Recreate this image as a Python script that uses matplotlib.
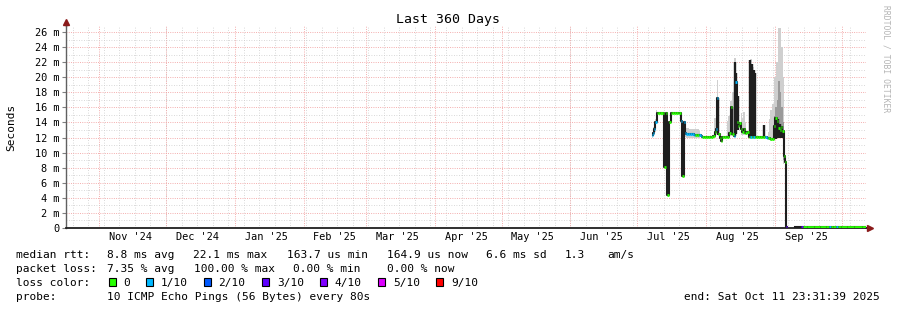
import numpy as np
import matplotlib
matplotlib.use("Agg")
import matplotlib.pyplot as plt
from matplotlib.patches import Rectangle
from datetime import datetime, timedelta

nan = float("nan")

# time range of the graph (360 days ending Oct 11 2025 23:31:39)
start = datetime(2024, 10, 16, 23, 31, 39)
span_days = 360

# median rtt (ms) per sample, x = days since start, loss = index into loss_colors
rtt_day = [264.0, 264.5, 265.0, 265.5, 266.1, 267.0, 268.0, 268.9, 269.6, 270.2,
           270.9, 271.7, 272.4, 273.2, 274.0, 274.8, 275.6, 276.4, 277.0, 277.6,
           278.2, 278.8, 279.6, 280.4, 281.2, 282.0, 282.8, 283.6, 284.4, 285.2,
           286.0, 286.8, 287.6, 288.4, 289.2, 290.0, 290.8, 291.6, 292.2, 292.7,
           293.3, 293.9, 294.4, 295.0, 295.6, 296.4, 297.2, 298.0, 298.7, 299.5,
           300.2, 300.8, 301.5, 302.1, 302.6, 303.3, 304.0, 304.7, 305.4, 306.1,
           306.8, 307.5, 308.3, 309.0, 309.6, 310.3, 311.0, 311.8, 312.6, 313.4,
           314.1, 314.9, 315.7, 316.5, 317.3, 318.1, 318.8, 319.5, 320.2, 320.8,
           321.4, 322.0, 322.6, 323.2, 323.6, 324.2, 324.6,
           331.2, 331.8, 335.0, 338.0, 341.0, 342.8, 343.7, 344.6, 346.0, 346.9,
           347.8, 350.0, 353.0, 356.0, 360.0]
rtt_median = [12.3, 12.6, 13.2, 14.1, 15.3, 15.3, 15.3, 15.3, 8.1, 15.3,
              4.4, 14.0, 15.3, 15.3, 15.3, 15.3, 15.3, 15.3, 14.2, 6.9,
              14.0, 12.6, 12.5, 12.5, 12.5, 12.5, 12.4, 12.4, 12.4, 12.3,
              12.2, 12.1, 12.1, 12.1, 12.1, 12.1, 12.1, 12.2, 12.8, 13.1,
              17.2, 12.5, 11.9, 11.6, 12.1, 12.1, 12.1, 12.1, 12.6, 16.0,
              12.5, 12.2, 19.4, 14.0, 13.5, 13.9, 13.2, 12.7, 13.1, 12.6,
              12.8, 12.1, 12.1, 12.1, 12.1, 12.1, 12.1, 12.1, 12.1, 12.1,
              12.1, 12.1, 12.0, 11.9, 11.8, 11.8, 13.5, 14.6, 14.2, 13.3,
              13.0, 13.4, 12.9, 9.5, 8.8, 0.16, nan,
              0.16, 0.16, 0.16, 0.16, 0.16, 0.16, 0.16, 0.16, 0.16, 0.16,
              0.16, 0.16, 0.16, 0.16, 0.16]
rtt_loss = [1, 1, 1, 1, 0, 0, 0, 0, 0, 0,
            0, 0, 0, 0, 0, 0, 0, 0, 1, 0,
            1, 1, 1, 1, 1, 1, 1, 0, 0, 1,
            1, 0, 0, 0, 0, 0, 0, 0, 0, 1,
            1, 0, 0, 0, 0, 0, 0, 0, 0, 0,
            0, 1, 1, 0, 0, 0, 0, 0, 0, 0,
            0, 0, 1, 0, 1, 0, 0, 0, 0, 0,
            0, 1, 1, 0, 0, 0, 0, 0, 0, 0,
            0, 0, 0, 0, 0, 3, 0,
            3, 0, 0, 0, 0, 0, 1, 0, 0, 1,
            0, 0, 0, 0, 0]

# light smoke (spread of the pings around the median)
smoke_day = [263.9, 264.6, 265.3, 266.0, 266.4,
             278.5, 279.5, 281.0, 282.5, 284.0, 285.5, 286.2,
             291.4, 292.1, 292.8, 293.4, 294.0,
             297.6, 298.4, 299.2, 300.0, 300.9, 301.7, 302.4,
             303.6, 304.4, 305.2, 306.0, 306.6,
             307.6, 308.4, 309.2, 309.9, 310.5,
             315.8, 316.6, 317.4, 318.2, 319.0, 319.8, 320.6, 321.4, 322.2, 322.9, 323.4]
smoke_lo = [12.0, 12.3, 12.8, 13.8, nan,
            12.1, 12.0, 12.0, 12.0, 12.0, 12.0, nan,
            12.0, 12.2, 12.5, 12.5, nan,
            12.0, 12.2, 12.2, 12.2, 12.2, 12.5, nan,
            12.4, 12.3, 12.4, 12.3, nan,
            12.1, 12.1, 12.1, 12.1, nan,
            11.8, 11.7, 11.6, 11.7, 12.0, 12.0, 12.0, 12.0, 12.0, 8.5, nan]
smoke_hi = [12.7, 13.4, 14.5, 15.6, nan,
            13.3, 13.3, 13.2, 13.2, 13.1, 12.9, nan,
            13.0, 14.6, 15.0, 19.6, nan,
            14.2, 14.8, 16.8, 18.0, 22.6, 21.0, nan,
            15.2, 14.6, 15.4, 14.0, nan,
            23.2, 22.4, 21.4, 21.0, nan,
            12.8, 14.5, 15.6, 16.5, 20.0, 22.0, 26.5, 26.6, 24.0, 20.0, nan]

# darker smoke
mid_day = [318.8, 319.5, 320.2, 320.9, 321.6, 322.3, 323.0, 323.4]
mid_lo = [12.0, 12.0, 12.0, 12.0, 12.0, 12.0, 9.0, nan]
mid_hi = [14.8, 16.0, 17.0, 19.5, 18.0, 16.0, 14.0, nan]

# dense (black) smoke columns
spike_day = [293.3, 299.5, 300.9, 301.7, 302.5, 307.9, 308.5, 309.7, 310.2,
             313.9, 319.3, 320.6, 321.3, 322.4]
spike_lo = [12.3, 12.3, 12.2, 12.5, 13.0, 12.1, 12.1, 12.1, 12.1,
            12.1, 11.8, 12.0, 12.0, 12.0]
spike_hi = [17.2, 16.1, 22.0, 20.5, 17.5, 22.3, 21.8, 21.0, 20.6,
            13.6, 14.5, 14.5, 13.8, 13.5]

loss_colors = ['#26ff00', '#00b8ff', '#0059ff', '#5e00ff', '#7e00ff', '#dd00ff', '#ff0000']
loss_labels = ['0', '1/10', '2/10', '3/10', '4/10', '5/10', '9/10']

y_top = 26.8

plt.rcParams['font.family'] = ['DejaVu Sans Mono']

W, H = 897, 310
fig = plt.figure(figsize=(W / 100, H / 100), dpi=100)
fig.patch.set_facecolor('white')
x0, x1, y0, y1 = 66, 866, 228, 26
ax = fig.add_axes([x0 / W, 1 - y0 / H, (x1 - x0) / W, (y0 - y1) / H])
ax.set_xlim(0, span_days)
ax.set_ylim(0, y_top)


def day_of(dt):
    return (dt - start).total_seconds() / 86400.0


# grid: weekly minor (gray), monthly major (red)
minor_c = '#cccccc'
major_c = '#f2a2a2'
d = datetime(2024, 10, 20)
while day_of(d) < span_days:
    ax.axvline(day_of(d), color=minor_c, lw=0.6, ls=(0, (1, 2)), zorder=0)
    d += timedelta(days=7)
month_starts = []
for k in range(12):
    y, m = 2024 + (10 + k) // 12, (10 + k) % 12 + 1
    month_starts.append(datetime(y, m, 1))
for ms in month_starts:
    ax.axvline(day_of(ms), color=major_c, lw=0.65, ls=(0, (1, 1.5)), zorder=0)
for v in range(1, 27):
    if v % 2:
        ax.axhline(v, color=minor_c, lw=0.6, ls=(0, (1, 2)), zorder=0)
    else:
        ax.axhline(v, color=major_c, lw=0.65, ls=(0, (1, 1.5)), zorder=0)

# smoke
ax.fill_between(smoke_day, smoke_lo, smoke_hi, step='mid', color='#cfcfcf', lw=0, zorder=2)
ax.fill_between(mid_day, mid_lo, mid_hi, step='mid', color='#9a9a9a', lw=0, zorder=3)
ax.vlines(spike_day, spike_lo, spike_hi, color='#1e1e1e', lw=1.7, zorder=4)

# median line: black connectors + loss coloured segments
ax.plot(rtt_day, rtt_median, drawstyle='steps-mid', color='#1e1e1e', lw=1.5, zorder=5)
n = len(rtt_day)
for i in range(n):
    v = rtt_median[i]
    if np.isnan(v):
        continue
    left = rtt_day[i] - 0.3
    right = rtt_day[i] + 0.3
    if i > 0 and not np.isnan(rtt_median[i - 1]):
        left = (rtt_day[i - 1] + rtt_day[i]) / 2
    if i < n - 1 and not np.isnan(rtt_median[i + 1]):
        right = (rtt_day[i] + rtt_day[i + 1]) / 2
    ax.hlines(v, left, right, color=loss_colors[rtt_loss[i]], lw=2.0, zorder=6)

# axes
for s in ['top', 'right']:
    ax.spines[s].set_visible(False)
ax.spines['left'].set_color('#606060')
ax.spines['left'].set_linewidth(1.0)
ax.spines['bottom'].set_color('#202020')
ax.spines['bottom'].set_linewidth(1.3)
px_day = (x1 - x0) / span_days
px_ms = (y0 - y1) / y_top
ax.plot([span_days, span_days + 3.5 / px_day], [0, 0], color='#202020', lw=1.3, clip_on=False)
ax.plot([0, 0], [y_top, y_top + 3.5 / px_ms], color='#606060', lw=1.0, clip_on=False)
ax.plot([span_days + 4.2 / px_day], [0], marker='>', ms=5, color='#8b1a1a', clip_on=False, zorder=10)
ax.plot([0], [y_top + 4.5 / px_ms], marker='^', ms=5, color='#8b1a1a', clip_on=False, zorder=10)

yt = list(range(0, 27, 2))
ax.set_yticks(yt)
ax.set_yticklabels(['0' if v == 0 else f'{v} m' for v in yt])
label_days = [day_of(datetime(ms.year, ms.month, 15)) for ms in month_starts[:11]]
ax.set_xticks(label_days)
ax.set_xticklabels([datetime(ms.year, ms.month, 15).strftime("%b '%y") for ms in month_starts[:11]])
ax.tick_params(axis='y', length=3, width=0.8, color='#808080', pad=2, labelsize=7.4)
ax.tick_params(axis='x', length=0, pad=3, labelsize=7.4)

ax.set_ylabel('Seconds', fontsize=8, labelpad=13)

fig.text(448 / W, 1 - 19 / H, 'Last 360 Days', ha='center', va='center', fontsize=9.5)
fig.text(886 / W, 1 - 5 / H, 'RRDTOOL / TOBI OETIKER', rotation=270, ha='center', va='top',
         fontsize=5.8, color='#b4b4b4')

# legend block (baselines in pixels)
fs = 8


def put(x, y, s):
    fig.text(x / W, 1 - y / H, s, ha='left', va='baseline', fontsize=fs)


r1, r2, r3, r4 = 258.3, 272.3, 286.3, 300.3
put(16, r1, 'median rtt:')
put(107, r1, '8.8 ms avg')
put(193, r1, '22.1 ms max')
put(287, r1, '163.7 us min')
put(387, r1, '164.9 us now')
put(486, r1, '6.6 ms sd')
put(565, r1, '1.3')
put(607, r1, 'am/s')
put(16, r2, 'packet loss:')
put(107, r2, '7.35 % avg')
put(194, r2, '100.00 % max')
put(293, r2, '0.00 % min')
put(387, r2, '0.00 % now')
put(16, r3, 'loss color:')
box_x = [108.5, 146, 203.5, 262, 319.5, 378, 436]
for bx, c, lab in zip(box_x, loss_colors, loss_labels):
    fig.patches.append(Rectangle((bx / W, 1 - 286 / H), 7 / W, 8 / H, transform=fig.transFigure,
                                 facecolor=c, edgecolor='black', lw=0.8))
    put(bx + 15, r3, lab)
put(16, r4, 'probe:')
put(107, r4, '10 ICMP Echo Pings (56 Bytes) every 80s')
fig.text(880 / W, 1 - r4 / H, 'end: Sat Oct 11 23:31:39 2025', ha='right', va='baseline', fontsize=fs)

fig.savefig('out.png', dpi=100, facecolor='white')
